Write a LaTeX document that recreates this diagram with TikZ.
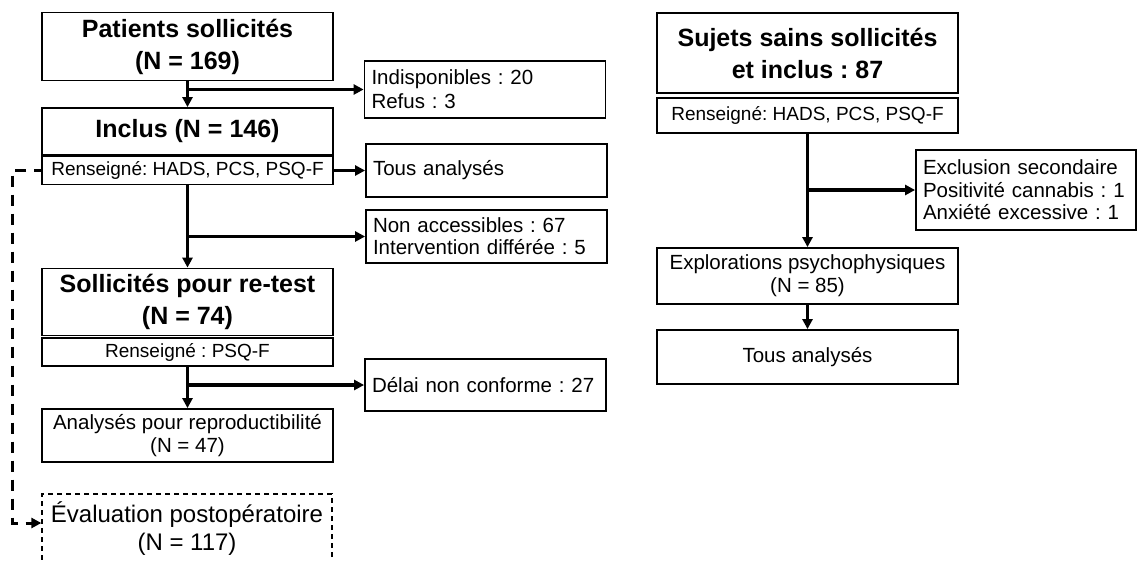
\documentclass[tikz,border=0pt]{standalone}
\usepackage{fontspec}
\setmainfont{Liberation Sans}
\usetikzlibrary{arrows.meta,positioning,calc}
\frenchspacing

\begin{document}
\begin{tikzpicture}[x=1pt,y=-1pt,
    box/.style={draw,line width=1.8pt,inner sep=0pt,align=center},
    side/.style={draw,line width=1.8pt,inner xsep=7pt,inner ysep=0pt,text width=227pt,align=left,font=\fontsize{20.5}{24}\selectfont},
    big/.style={font=\bfseries\fontsize{25}{32}\selectfont},
    txt/.style={font=\fontsize{20.5}{23}\selectfont},
    small/.style={font=\fontsize{19}{22}\selectfont},
    conn/.style={line width=3.5pt,-{Triangle[length=10pt,width=10pt]}}]
    \useasboundingbox (0,0) rectangle (1137,560);
    % left column: patients
    \node[box,big,minimum width=291pt,minimum height=68pt] (pat) at (187.5,46.5) {Patients sollicités\\(N = 169)};
    \node[box,big,minimum width=291pt,minimum height=47pt] (inc) at (187.5,131.5) {Inclus (N = 146)};
    \node[box,small,minimum width=291pt,minimum height=28pt] (ren1) at (187.5,170.5) {Renseigné: HADS, PCS, PSQ-F};
    \node[box,big,minimum width=291pt,minimum height=67pt] (sol) at (187.5,302) {Sollicités pour re-test\\(N = 74)};
    \node[box,small,minimum width=291pt,minimum height=28pt] (ren2) at (187.5,352) {Renseigné : PSQ-F};
    \node[box,txt,minimum width=291pt,minimum height=53pt] (ana) at (187.5,435.5) {Analysés pour reproductibilité\\(N = 47)};
    \node[box,font=\fontsize{24}{28}\selectfont,dash pattern=on 5pt off 4pt,line width=1.3pt,minimum width=290pt,minimum height=70pt] (eval) at (187,529) {Évaluation postopératoire\\(N = 117)};
    % exclusions
    \node[side,minimum height=57pt] (ind) at (485,89.5) {Indisponibles : 20\\Refus : 3};
    \node[side,minimum height=53pt] (tous1) at (486.5,170.5) {Tous analysés};
    \node[side,minimum height=53pt,font=\fontsize{20.5}{22}\selectfont] (nonacc) at (486.5,236.5) {Non accessibles : 67\\Intervention différée : 5};
    \node[side,minimum height=52pt] (delai) at (485.5,385) {Délai non conforme : 27};
    % right column: healthy subjects
    \node[box,big,minimum width=301pt,minimum height=80pt] (suj) at (807.5,53) {Sujets sains sollicités\\et inclus : 87};
    \node[box,small,minimum width=301pt,minimum height=35pt] (ren3) at (807.5,115.5) {Renseigné: HADS, PCS, PSQ-F};
    \node[side,text width=206pt,minimum height=80pt,font=\fontsize{20.5}{22.5}\selectfont] (excl) at (1026,190) {Exclusion secondaire\\Positivité cannabis : 1\\Anxiété excessive : 1};
    \node[box,txt,minimum width=301pt,minimum height=56pt] (expl) at (807.5,276) {Explorations psychophysiques\\(N = 85)};
    \node[box,txt,minimum width=301pt,minimum height=54pt] (tous2) at (807.5,357) {Tous analysés};
    % connectors
    \draw[conn] (pat.south) -- (inc.north);
    \draw[conn] (pat.south |- ind.west) -- (ind.west);
    \draw[conn] (ren1.east) -- (tous1.west);
    \draw[conn] (ren1.south) -- (sol.north);
    \draw[conn] (ren1.south |- nonacc.west) -- (nonacc.west);
    \draw[conn] (ren2.south) -- (ana.north);
    \draw[conn] (ren2.south |- delai.west) -- (delai.west);
    \draw[conn,line width=3pt,dash pattern=on 11pt off 8pt,dash phase=4pt] (ren1.west) -- ++(-29,0) |- ([yshift=6pt]eval.west);
    \draw[conn] (ren3.south) -- (expl.north);
    \draw[conn] (ren3.south |- excl.west) -- (excl.west);
    \draw[conn] (expl.south) -- (tous2.north);
\end{tikzpicture}
\end{document}
